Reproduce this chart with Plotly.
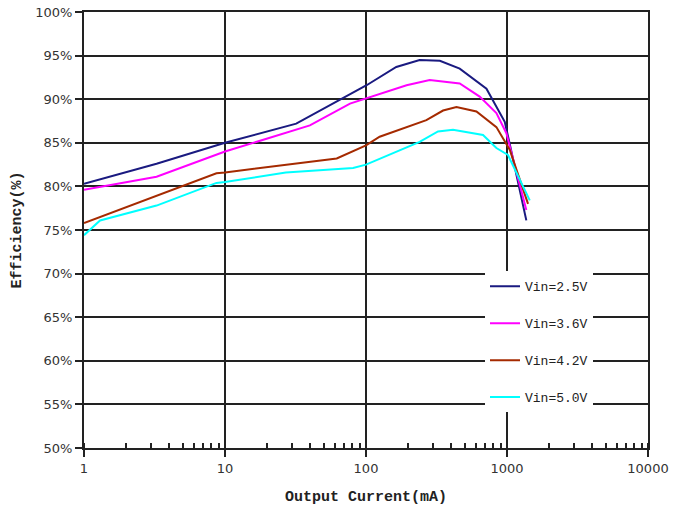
import plotly.graph_objects as go

# Output current (mA) and efficiency (%) per input voltage
x_25 = [1, 3.27, 10, 32, 101, 164, 240, 334, 462, 715, 964, 1045, 1371]
y_25 = [80.3, 82.6, 85.0, 87.2, 91.6, 93.7, 94.5, 94.4, 93.5, 91.2, 87.4, 84.9, 76.1]

x_36 = [1, 3.27, 10, 40, 77, 100, 194, 283, 462, 640, 841, 990, 1371]
y_36 = [79.6, 81.1, 84.0, 87.0, 89.5, 90.1, 91.6, 92.2, 91.8, 90.3, 88.4, 86.1, 77.3]

x_42 = [1, 8.7, 10, 62, 100, 125, 268, 352, 438, 607, 841, 1045, 1410]
y_42 = [75.8, 81.5, 81.6, 83.2, 84.7, 85.7, 87.6, 88.7, 89.1, 88.6, 86.8, 84.2, 78.0]

x_50 = [1, 1.3, 3.27, 8.7, 10, 27, 81, 100, 240, 324, 414, 676, 841, 1016, 1450]
y_50 = [74.4, 76.1, 77.8, 80.4, 80.5, 81.6, 82.1, 82.5, 85.1, 86.3, 86.5, 85.9, 84.4, 83.6, 78.4]

series_names = ["Vin=2.5V", "Vin=3.6V", "Vin=4.2V", "Vin=5.0V"]
series_colors = ["#1a1a80", "#ff00ff", "#a52a00", "#00ffff"]

x_tickvals = [1, 10, 100, 1000, 10000]
x_ticktext = ["1", "10", "100", "1000", "10000"]
y_tickvals = [50, 55, 60, 65, 70, 75, 80, 85, 90, 95, 100]
y_ticktext = [f"{v}%" for v in y_tickvals]

fig = go.Figure()
data = [(x_25, y_25), (x_36, y_36), (x_42, y_42), (x_50, y_50)]
for i, ((xs, ys), name, col) in enumerate(zip(data, series_names, series_colors)):
    fig.add_trace(go.Scatter(x=xs, y=ys, mode="lines", name=name,
                             legendgroup=f"g{i}",
                             line=dict(color=col, width=2)))

axis_font = dict(family="Liberation Mono", size=15, color="#222")
tick_font = dict(family="DejaVu Sans", size=13, color="#333")

fig.update_layout(
    width=675, height=512,
    margin=dict(l=84, r=27, t=12, b=64),
    paper_bgcolor="white", plot_bgcolor="white",
    showlegend=True,
    legend=dict(x=0.711, y=0.405, xanchor="left", yanchor="top",
                bgcolor="white", borderwidth=0,
                font=dict(family="Liberation Mono", size=13, color="#222"),
                tracegroupgap=17, itemwidth=30),
    xaxis=dict(type="log", range=[0, 4], automargin=False,
               tickvals=x_tickvals, ticktext=x_ticktext,
               showgrid=True, gridcolor="#222", gridwidth=1.5,
               showline=True, linecolor="#222", linewidth=2, mirror=True,
               ticks="outside", ticklen=7, tickcolor="#222", tickwidth=1.5,
               tickfont=tick_font,
               minor=dict(dtick="D1", ticks="inside", ticklen=5, tickcolor="#222",
                          showgrid=False),
               title=dict(text="<b>Output Current(mA)</b>", font=axis_font, standoff=16),
               zeroline=False),
    yaxis=dict(range=[50, 100], automargin=False,
               tickvals=y_tickvals, ticktext=y_ticktext,
               showgrid=True, gridcolor="#222", gridwidth=1.5,
               showline=True, linecolor="#222", linewidth=2, mirror=True,
               ticks="outside", ticklen=7, tickcolor="#222", tickwidth=1.5,
               tickfont=tick_font,
               title=dict(text="<b>Efficiency(%)</b>", font=axis_font, standoff=10),
               zeroline=False),
)

fig.write_html("out.html", config={"displayModeBar": False},
               post_script="document.body.style.margin='0';document.body.style.padding='0';")
